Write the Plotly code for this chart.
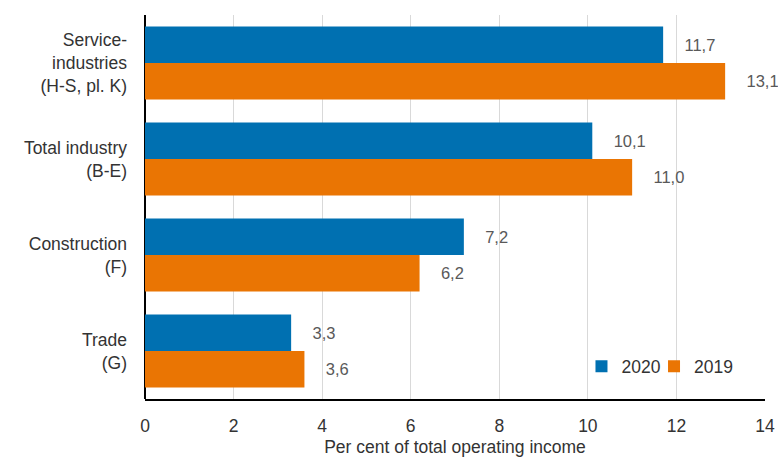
import plotly.graph_objects as go

categories = ["Service-<br>industries<br>(H-S, pl. K)", "Total industry<br>(B-E)", "Construction<br>(F)", "Trade<br>(G)"]
values_2020 = [11.7, 10.1, 7.2, 3.3]
values_2019 = [13.1, 11.0, 6.2, 3.6]
series_names = ["2020", "2019"]
colors = ["#0070b1", "#ea7503"]
x_ticks = [0, 2, 4, 6, 8, 10, 12, 14]

FONT = "Liberation Sans, Arial"

def fmt(v):
    return f"{v:.1f}".replace(".", ",")

fig = go.Figure()
for name, vals, col, leg in zip(series_names, [values_2020, values_2019], colors, ["legend", "legend2"]):
    fig.add_trace(go.Bar(
        y=categories, x=vals, name=name, orientation="h",
        marker=dict(color=col, line=dict(width=0)),
        text=["    " + fmt(v) for v in vals], textposition="outside",
        textfont=dict(color="#595959", size=16.5, family=FONT),
        cliponaxis=False, legend=leg,
    ))

leg_common = dict(orientation="h", y=0.085, xanchor="left", yanchor="middle",
                  font=dict(size=17.5, color="#333333"), bgcolor="rgba(0,0,0,0)")

fig.update_layout(
    width=778, height=457,
    margin=dict(l=145, r=13, t=15, b=58, autoexpand=False),
    paper_bgcolor="white", plot_bgcolor="white",
    barmode="group", bargap=0.24, bargroupgap=0,
    font=dict(family=FONT, size=17.5, color="#333333"),
    showlegend=True,
    legend=dict(x=0.704, **leg_common),
    legend2=dict(x=0.821, **leg_common),
    uniformtext=dict(mode=False),
)
fig.update_xaxes(
    range=[0, 14], tickvals=x_ticks, ticktext=[str(t) for t in x_ticks],
    showgrid=True, gridcolor="#d9d9d9", gridwidth=1,
    showline=True, linecolor="black", linewidth=1.5,
    zeroline=True, zerolinecolor="black", zerolinewidth=1.5,
    ticks="", ticklabelstandoff=10, automargin=False,
    tickfont=dict(size=17.5, color="#333333"),
    title=dict(text="Per cent of total operating income", standoff=9,
               font=dict(size=17.5, color="#333333")),
)
fig.update_yaxes(
    autorange="reversed", showgrid=False, showline=False, ticks="",
    ticklabelstandoff=17, automargin=False, tickfont=dict(size=17.5, color="#333333"),
)

fig.write_html("out.html")
